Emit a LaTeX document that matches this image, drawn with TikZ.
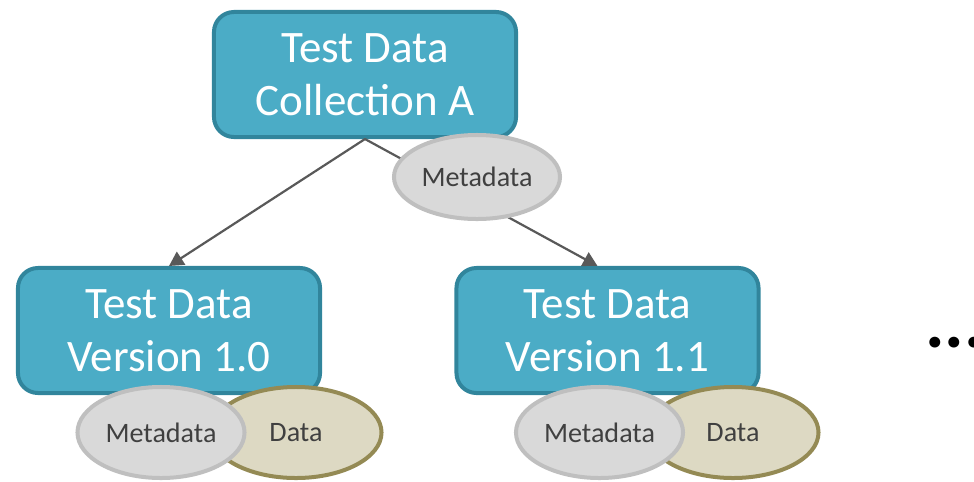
\documentclass[tikz,border=0pt]{standalone}
\usepackage{fontspec}
\setmainfont{Carlito}
\usetikzlibrary{arrows.meta,positioning,shapes.geometric}
\definecolor{boxfill}{HTML}{4BACC6}
\definecolor{boxline}{HTML}{31859C}
\definecolor{metafill}{HTML}{D9D9D9}
\definecolor{metaline}{HTML}{BFBFBF}
\definecolor{datafill}{HTML}{DDD9C3}
\definecolor{dataline}{HTML}{948A54}
\definecolor{textgray}{HTML}{404040}
\definecolor{linkgray}{HTML}{595959}

\begin{document}
\begin{tikzpicture}[x=0.025cm,y=-0.025cm,
  testbox/.style={draw=boxline,fill=boxfill,line width=0.1cm,rounded corners=0.5cm,
    minimum width=7.55cm,minimum height=3.125cm,inner sep=0,align=center,text=white,
    font=\fontsize{32}{37.7}\selectfont},
  metabox/.style={ellipse,draw=metaline,fill=metafill,line width=0.1cm,inner sep=0,
    minimum width=4.175cm,minimum height=2.275cm,text=textgray,font=\fontsize{20}{24}\selectfont},
  databox/.style={ellipse,draw=dataline,fill=datafill,line width=0.1cm,inner sep=0,
    minimum width=4.275cm,minimum height=2.275cm,text=textgray,font=\fontsize{20}{24}\selectfont},
  link/.style={draw=linkgray,line width=0.055cm,-{Triangle[length=0.36cm,width=0.38cm]}}]
\useasboundingbox (0,0) rectangle (974,481);
\node[testbox] (coll) at (365,74.5) {Test Data\\Collection A};
\node[testbox] (v10) at (169,330.5) {Test Data\\Version 1.0};
\node[testbox] (v11) at (607.5,330.5) {Test Data\\Version 1.1};
\path (coll.south) edge[link] (v10.north)
  (coll.south) edge[link] ([xshift=-0.25cm]v11.north);
\node[metabox,minimum width=4.15cm,minimum height=2.1cm] (collmeta) at (477,177) {Metadata};
\node[databox] (v10data) at (296,432.5) {Data};
\node[metabox] (v10meta) at (161,432.5) {Metadata};
\node[databox] (v11data) at (733,432.5) {Data};
\node[metabox] (v11meta) at (599.5,432.5) {Metadata};
\node[anchor=base west,inner sep=0,font=\fontsize{52}{52}\selectfont\bfseries] (more) at (925,347) {...};
\end{tikzpicture}
\end{document}
